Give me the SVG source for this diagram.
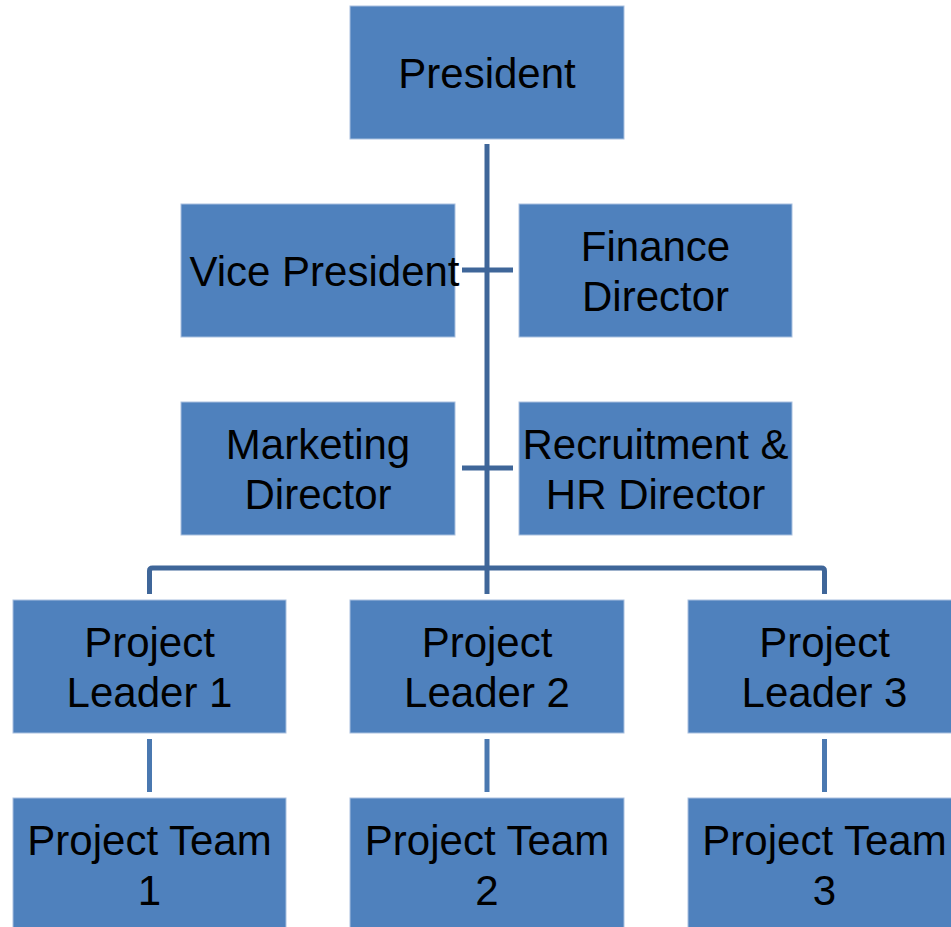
<svg xmlns="http://www.w3.org/2000/svg" width="951" height="927" viewBox="0 0 951 927">
<style>
.box{fill:#4f81bd;stroke:#a9c0df;stroke-width:1}
.t{font-family:"Liberation Sans",Arial,sans-serif;font-size:42px;fill:#000;text-anchor:middle}
.c{fill:none;stroke:#3f6699;stroke-width:5}
.s{fill:none;stroke:#4a78b0;stroke-width:5}
</style>
<rect width="951" height="927" fill="#fff"/>
<g id="connectors">
<path class="c" d="M487,144 V568"/>
<path class="c" d="M462,270 H513"/>
<path class="c" d="M462,468 H513"/>
<path class="c" d="M149.5,594 V571 Q149.5,568 152.5,568 H821.5 Q824.5,568 824.5,571 V594"/>
<path class="c" d="M487,568 V594"/>
<path class="s" d="M149.5,739 V792"/>
<path class="s" d="M487,739 V792"/>
<path class="s" d="M824.5,739 V792"/>
</g>
<g id="president"><rect class="box" x="350" y="6" width="274" height="133"/><text class="t" x="487" y="88">President</text></g>
<g id="vice-president"><rect class="box" x="181" y="204" width="274" height="133"/><text class="t" x="324.5" y="286">Vice President</text></g>
<g id="finance-director"><rect class="box" x="519" y="204" width="273" height="133"/><text class="t" x="655.5" y="261">Finance</text><text class="t" x="655.5" y="311">Director</text></g>
<g id="marketing-director"><rect class="box" x="181" y="402" width="274" height="133"/><text class="t" x="318" y="459">Marketing</text><text class="t" x="318" y="509">Director</text></g>
<g id="recruitment-hr-director"><rect class="box" x="519" y="402" width="273" height="133"/><text class="t" x="655.5" y="459">Recruitment &amp;</text><text class="t" x="655.5" y="509">HR Director</text></g>
<g id="project-leader-1"><rect class="box" x="13" y="600" width="273" height="133"/><text class="t" x="149.5" y="657">Project</text><text class="t" x="149.5" y="707">Leader 1</text></g>
<g id="project-leader-2"><rect class="box" x="350" y="600" width="274" height="133"/><text class="t" x="487" y="657">Project</text><text class="t" x="487" y="707">Leader 2</text></g>
<g id="project-leader-3"><rect class="box" x="688" y="600" width="273" height="133"/><text class="t" x="824.5" y="657">Project</text><text class="t" x="824.5" y="707">Leader 3</text></g>
<g id="project-team-1"><rect class="box" x="13" y="798" width="273" height="133"/><text class="t" x="149.5" y="855">Project Team</text><text class="t" x="149.5" y="905">1</text></g>
<g id="project-team-2"><rect class="box" x="350" y="798" width="274" height="133"/><text class="t" x="487" y="855">Project Team</text><text class="t" x="487" y="905">2</text></g>
<g id="project-team-3"><rect class="box" x="688" y="798" width="273" height="133"/><text class="t" x="824.5" y="855">Project Team</text><text class="t" x="824.5" y="905">3</text></g>
</svg>
